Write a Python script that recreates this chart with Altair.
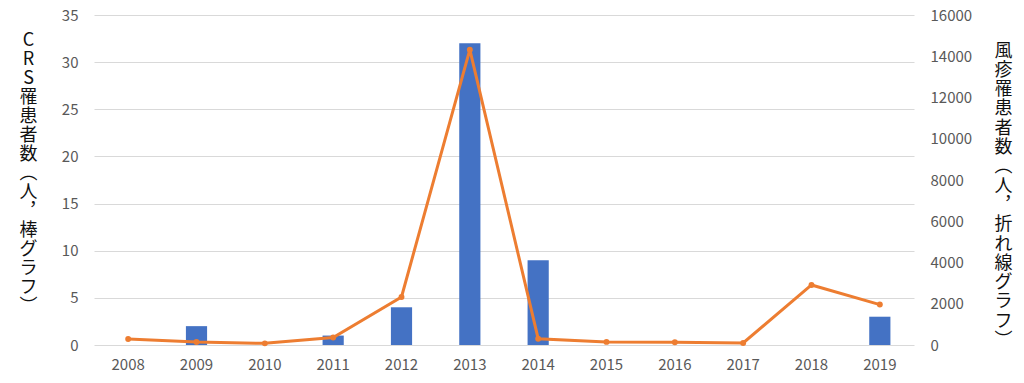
import altair as alt
import pandas as pd

years = [2008, 2009, 2010, 2011, 2012, 2013, 2014, 2015, 2016, 2017, 2018, 2019]
crs_cases = [0, 2, 0, 1, 4, 32, 9, 0, 0, 0, 0, 3]
rubella_cases = [290, 145, 80, 360, 2330, 14320, 305, 150, 130, 100, 2910, 1960]

left_title = ["C", "R", "S", "罹", "患", "者", "数", "︵", "人", "︐", "棒", "グ", "ラ", "フ", "︶"]
right_title = ["風", "疹", "罹", "患", "者", "数", "︵", "人", "︐", "折", "れ", "線", "グ", "ラ", "フ", "︶"]

df = pd.DataFrame({
    "year": [str(y) for y in years],
    "crs": crs_cases,
    "rubella": rubella_cases,
})

FONT = "Noto Sans CJK JP"
LABEL_COLOR = "#595959"

x_enc = alt.X(
    "year:O",
    title=None,
    scale=alt.Scale(paddingInner=0.69, paddingOuter=0.345),
    axis=alt.Axis(labelAngle=0, domain=False, ticks=False, labelPadding=12,
                  labelFontSize=15, labelColor=LABEL_COLOR, labelFont=FONT, grid=False),
)

bars = alt.Chart(df).mark_bar(color="#4472C4").encode(
    x=x_enc,
    y=alt.Y(
        "crs:Q",
        scale=alt.Scale(domain=[0, 35], nice=False),
        axis=alt.Axis(
            orient="left",
            values=list(range(0, 36, 5)),
            title=left_title,
            titleAngle=0,
            titleX=-66,
            titleY=16,
            titleAlign="center",
            titleBaseline="top",
            titleFontSize=18,
            titleLineHeight=19,
            titleFont=FONT,
            titleFontWeight="normal",
            titleColor="#111111",
            labelFontSize=15,
            labelFont=FONT,
            labelColor=LABEL_COLOR,
            labelPadding=16,
            domain=False,
            ticks=False,
            grid=True,
            gridColor="#D9D9D9",
            gridWidth=1,
        ),
    ),
)

line = alt.Chart(df).mark_line(
    color="#ED7D31",
    strokeWidth=3,
    point=alt.OverlayMarkDef(color="#ED7D31", size=35, filled=True, opacity=1),
).encode(
    x=x_enc,
    y=alt.Y(
        "rubella:Q",
        scale=alt.Scale(domain=[0, 16000], nice=False),
        axis=alt.Axis(
            orient="right",
            values=list(range(0, 16001, 2000)),
            format="d",
            title=right_title,
            titleAngle=0,
            titleX=89,
            titleY=27,
            titleAlign="center",
            titleBaseline="top",
            titleFontSize=18,
            titleLineHeight=19.3,
            titleFont=FONT,
            titleFontWeight="normal",
            titleColor="#111111",
            labelFontSize=15,
            labelFont=FONT,
            labelColor=LABEL_COLOR,
            labelPadding=16,
            domain=False,
            ticks=False,
            grid=False,
        ),
    ),
)

chart = alt.layer(bars, line).resolve_scale(y="independent").properties(
    width=820,
    height=330,
    autosize=alt.AutoSizeParams(type="none"),
    padding={"left": 86, "top": 7, "right": 102, "bottom": 30},
    background="white",
).configure_view(stroke=None)

chart.save("out.html", embed_options={"renderer": "svg", "actions": False})
